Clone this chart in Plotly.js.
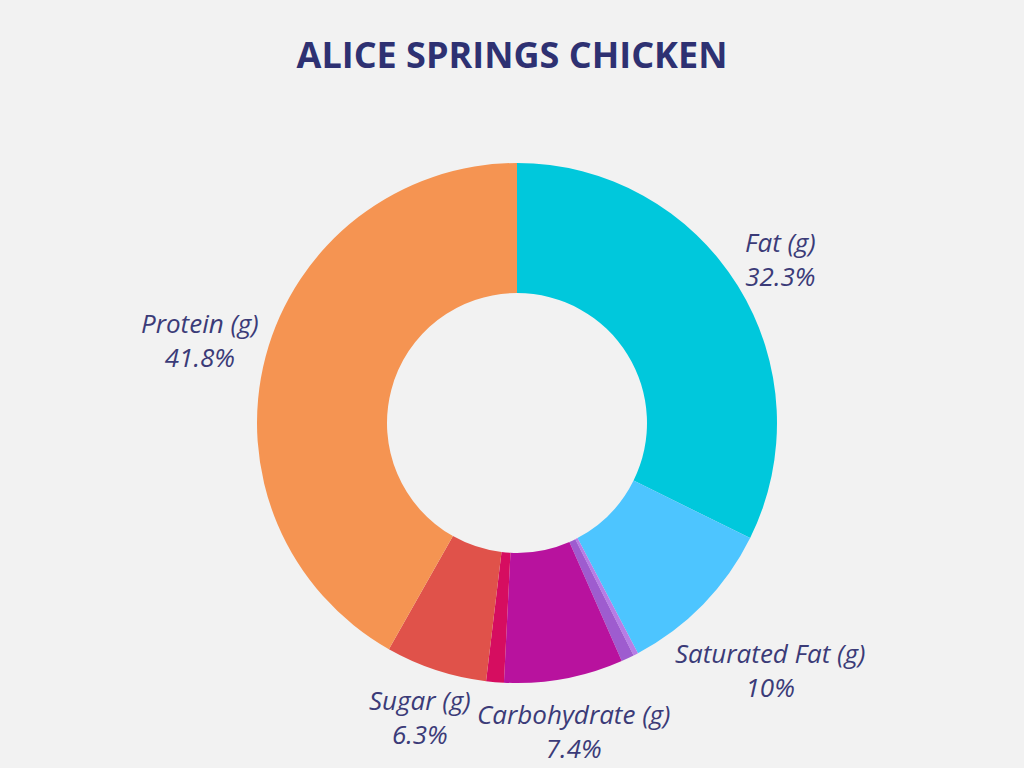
<!DOCTYPE html>
<html>
<head>
<meta charset="utf-8">
<script src="https://cdn.plot.ly/plotly-3.0.1.min.js"></script>
<style>
  html, body { margin: 0; padding: 0; background: #f2f2f2; }
  #chart { width: 1024px; height: 768px; }
</style>
</head>
<body>
<div id="chart"></div>
<script>
// nutrient shares (percent of total grams), clockwise from 12 o'clock
const nutrients = ['Fat (g)', 'Saturated Fat (g)', 'Trans Fat (g)', 'Fiber (g)', 'Carbohydrate (g)', 'Sodium (g)', 'Sugar (g)', 'Protein (g)'];
const shares = [32.3, 10.0, 0.3, 0.8, 7.4, 1.1, 6.3, 41.8];
const sliceColors = ['#00c8dc', '#4dc5ff', '#b77de6', '#9e5ccf', '#b8129e', '#d60d60', '#e0524a', '#f59452'];

const W = 1024, H = 768;
const margin = { l: 10, r: 0, t: 163, b: 85 };
const labelFont = { family: 'Open Sans, sans-serif', size: 26, color: '#3b3b78', style: 'italic' };

// labels sit just outside the ring, centred on each slice's middle angle
function buildLabels() {
  const total = shares.reduce((a, b) => a + b, 0);
  const plotW = W - margin.l - margin.r;
  const plotH = H - margin.t - margin.b;
  const cx = margin.l + plotW / 2;
  const cy = margin.t + plotH / 2;
  const radius = Math.min(plotW, plotH) / 2;

  const ctx = document.createElement('canvas').getContext('2d');
  ctx.font = 'italic ' + labelFont.size + 'px "Open Sans"';
  const lineH = labelFont.size * 1.3;

  const notes = [];
  let cum = 0;
  shares.forEach((v, i) => {
    const pct = v / total * 100;
    const mid = (cum + v / 2) / total * 2 * Math.PI;
    cum += v;
    if (pct < 5) return; // slivers stay unlabelled
    const pctText = pct.toFixed(1).replace(/\.0$/, '') + '%';
    const w = Math.max(ctx.measureText(nutrients[i]).width, ctx.measureText(pctText).width);
    const h = 2 * lineH;
    const sx = Math.sin(mid), sy = -Math.cos(mid);
    const d = radius + 2 + Math.abs(sx) * w / 2 + Math.abs(sy) * h / 2;
    const px = cx + sx * d, py = cy + sy * d;
    notes.push({
      text: nutrients[i] + '<br>' + pctText,
      x: (px - margin.l) / plotW,
      y: 1 - (py - margin.t) / plotH,
      xref: 'paper', yref: 'paper',
      xanchor: 'center', yanchor: 'middle',
      showarrow: false,
      font: labelFont
    });
  });
  return notes;
}

const trace = {
  type: 'pie',
  labels: nutrients,
  values: shares,
  hole: 0.5,
  sort: false,
  direction: 'clockwise',
  rotation: 0,
  marker: { colors: sliceColors },
  textinfo: 'none',
  showlegend: false
};

const layout = {
  title: {
    text: '<b>ALICE SPRINGS CHICKEN</b>',
    font: { family: 'Open Sans, sans-serif', size: 36, color: '#2e3172' },
    x: 0.5,
    xanchor: 'center',
    y: 0.928,
    yanchor: 'middle'
  },
  paper_bgcolor: '#f2f2f2',
  plot_bgcolor: '#f2f2f2',
  margin: margin,
  width: W,
  height: H,
  annotations: buildLabels()
};

Plotly.newPlot('chart', [trace], layout, { displayModeBar: false });
</script>
</body>
</html>
